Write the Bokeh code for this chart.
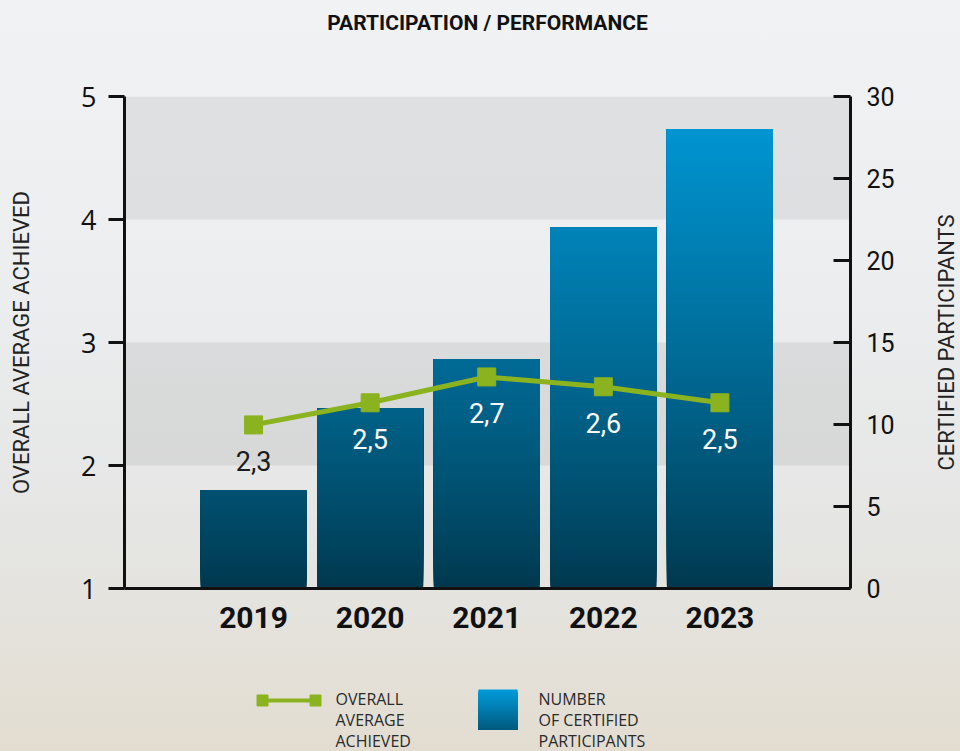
import numpy as np
from bokeh.plotting import figure
from bokeh.models import Range1d, LinearAxis, FixedTicker, BoxAnnotation, ColumnDataSource
from bokeh.layouts import column, row
from bokeh.embed import file_html
from bokeh.resources import INLINE
from bokeh.core.properties import value

# ---------------- data ----------------
years = ["2019", "2020", "2021", "2022", "2023"]
participants = [6, 11, 14, 22, 28]            # right axis: certified participants
averages = [2.33, 2.51, 2.72, 2.64, 2.51]     # left axis: overall average achieved
avg_labels = ["2,3", "2,5", "2,7", "2,6", "2,5"]
label_colors = ["#1b1b1b", "#ffffff", "#ffffff", "#ffffff", "#ffffff"]
left_ticks = [1, 2, 3, 4, 5]
right_ticks = [0, 5, 10, 15, 20, 25, 30]
shaded_bands = [(4, 5), (2, 3)]
title_text = "PARTICIPATION / PERFORMANCE"
left_title = "OVERALL AVERAGE ACHIEVED"
right_title = "CERTIFIED PARTICIPANTS"
legend_line_text = ["OVERALL", "AVERAGE", "ACHIEVED"]
legend_bar_text = ["NUMBER", "OF CERTIFIED", "PARTICIPANTS"]

# ---------------- styles ----------------
COND = "Roboto"
SANS = "Open Sans"
GREEN = "#8ab31f"
DARK = (0x00, 0x37, 0x4c)
BRIGHT = (0x00, 0x9a, 0xd9)
BORDER_L, BORDER_R = 124, 110
MAIN_W = 930
SIDE_W = 960 - MAIN_W
TOP_B, BOT_B = 46, 72


def grad(t):
    t = max(0.0, min(1.0, t)) ** 0.85
    c = [int(round(a + (b - a) * t)) for a, b in zip(DARK, BRIGHT)]
    return "#%02x%02x%02x" % tuple(c)


def clean(f):
    f.border_fill_alpha = 0
    f.background_fill_alpha = 0
    f.outline_line_color = None
    f.grid.visible = False
    return f


def strip(h):
    # x data units == page pixels (frame spans 124..850 like the main chart)
    f = figure(width=960, height=h,
               x_range=Range1d(BORDER_L, 960 - BORDER_R), y_range=Range1d(h, 0),
               output_backend="svg", toolbar_location=None,
               min_border_left=BORDER_L, min_border_right=BORDER_R,
               min_border_top=0, min_border_bottom=0,
               x_axis_type=None, y_axis_type=None)
    return clean(f)


# ---------------- header ----------------
hd = strip(50)
hd.text([487], [22], text=[title_text], text_font=value(COND), text_font_style="bold",
        text_font_size="21px", text_color="#111111", text_align="center",
        text_baseline="middle")

# ---------------- main chart ----------------
xs = list(range(len(years)))
plot_w = 960 - BORDER_L - BORDER_R

p = figure(width=MAIN_W, height=610,
           x_range=Range1d(-1.107, 5.12), y_range=Range1d(1, 5),
           output_backend="svg", toolbar_location=None,
           min_border_left=BORDER_L, min_border_right=MAIN_W - BORDER_L - plot_w,
           min_border_top=TOP_B, min_border_bottom=BOT_B)
p.extra_y_ranges = {"right": Range1d(0, 30)}
clean(p)

for lo, hi in shaded_bands:
    p.add_layout(BoxAnnotation(bottom=lo, top=hi, fill_color="#000000",
                               fill_alpha=0.065, line_color=None, level="underlay"))

# gradient bars: overlapping slices coloured by height
bw = 0.91
ql, qr, qb, qt, qc = [], [], [], [], []
step = 0.2
for i, v in enumerate(participants):
    b = 0.0
    while b < v - 1e-9:
        ql.append(i - bw / 2)
        qr.append(i + bw / 2)
        qb.append(b)
        qt.append(v)
        qc.append(grad((b + step / 2) / 30.0))
        b += step
p.quad(left=ql, right=qr, bottom=qb, top=qt, fill_color=qc, line_color=None,
       y_range_name="right")

p.line(xs, averages, color=GREEN, line_width=5)
p.scatter(xs, averages, marker="square", size=18, color=GREEN)

lab_src = ColumnDataSource(dict(x=xs, y=averages, t=avg_labels, c=label_colors))
p.text(x="x", y="y", text="t", source=lab_src, text_color="c",
       text_font=value(COND), text_font_size="27px",
       text_align="center", text_baseline="middle", y_offset=36)

la = p.yaxis[0]
la.ticker = FixedTicker(ticks=left_ticks)
la.minor_tick_line_color = None
la.major_tick_out = 16
la.major_tick_in = 0
la.major_tick_line_width = 3
la.axis_line_width = 3
la.axis_line_color = "#111111"
la.major_tick_line_color = "#111111"
la.major_label_text_font = SANS
la.major_label_text_font_size = "27px"
la.major_label_text_color = "#111111"
la.major_label_standoff = 12
la.axis_label = left_title
la.axis_label_text_font = COND
la.axis_label_text_font_size = "22px"
la.axis_label_text_font_style = "normal"
la.axis_label_text_color = "#222222"
la.axis_label_standoff = 44

ra = LinearAxis(y_range_name="right", ticker=FixedTicker(ticks=right_ticks))
ra.minor_tick_line_color = None
ra.major_tick_out = 0
ra.major_tick_in = 17
ra.major_tick_line_width = 3
ra.axis_line_width = 3
ra.axis_line_color = "#111111"
ra.major_tick_line_color = "#111111"
ra.major_label_text_font = COND
ra.major_label_text_font_size = "25px"
ra.major_label_text_color = "#111111"
ra.major_label_standoff = 16
p.add_layout(ra, "right")

xa = p.xaxis[0]
xa.ticker = FixedTicker(ticks=xs)
xa.major_label_overrides = {i: y for i, y in enumerate(years)}
xa.major_tick_in = 0
xa.major_tick_out = 0
xa.minor_tick_line_color = None
xa.axis_line_width = 3
xa.axis_line_color = "#111111"
xa.major_label_text_font = COND
xa.major_label_text_font_style = "bold"
xa.major_label_text_font_size = "30px"
xa.major_label_text_color = "#111111"
xa.major_label_standoff = 18

# ---------------- right-hand axis title (reads bottom-to-top) ----------------
side = figure(width=SIDE_W, height=610,
              x_range=Range1d(0, SIDE_W), y_range=Range1d(0, 30),
              output_backend="svg", toolbar_location=None,
              min_border_left=0, min_border_right=0,
              min_border_top=TOP_B, min_border_bottom=BOT_B,
              x_axis_type=None, y_axis_type=None)
clean(side)
side.text([SIDE_W / 2 + 1], [15], text=[right_title], angle=np.pi / 2,
          text_font=value(COND), text_font_size="22px", text_color="#222222",
          text_align="center", text_baseline="middle")

# ---------------- legend strip ----------------
lg = strip(91)
lg.line([262, 315], [40, 40], color=GREEN, line_width=4)
lg.scatter([262, 315], [40, 40], marker="square", size=11, color=GREEN)
line_ys = [38.5, 59.5, 80]
lg.text([335] * 3, line_ys, text=legend_line_text, text_font=value(SANS),
        text_font_size="16px", text_color="#2a2a2a", text_baseline="middle")

sq_t, sq_b, sq_c = [], [], []
for k in range(40):
    sq_t.append(29 + k)
    sq_b.append(69)
    sq_c.append(grad(1.0 - k / 40.0 * 0.72))
lg.quad(left=478, right=517, top=sq_t, bottom=sq_b, fill_color=sq_c, line_color=None)
lg.text([538] * 3, line_ys, text=legend_bar_text, text_font=value(SANS),
        text_font_size="16px", text_color="#2a2a2a", text_baseline="middle")

layout = column(hd, row(p, side, spacing=0), lg, spacing=0, styles={
    "background": "linear-gradient(to bottom, #f0f2f4 0%, #eceef0 35%, #e5e6e4 70%, #e3ddd1 100%)",
    "width": "960px", "height": "751px"})

open("out.html", "w").write(file_html(layout, INLINE))
